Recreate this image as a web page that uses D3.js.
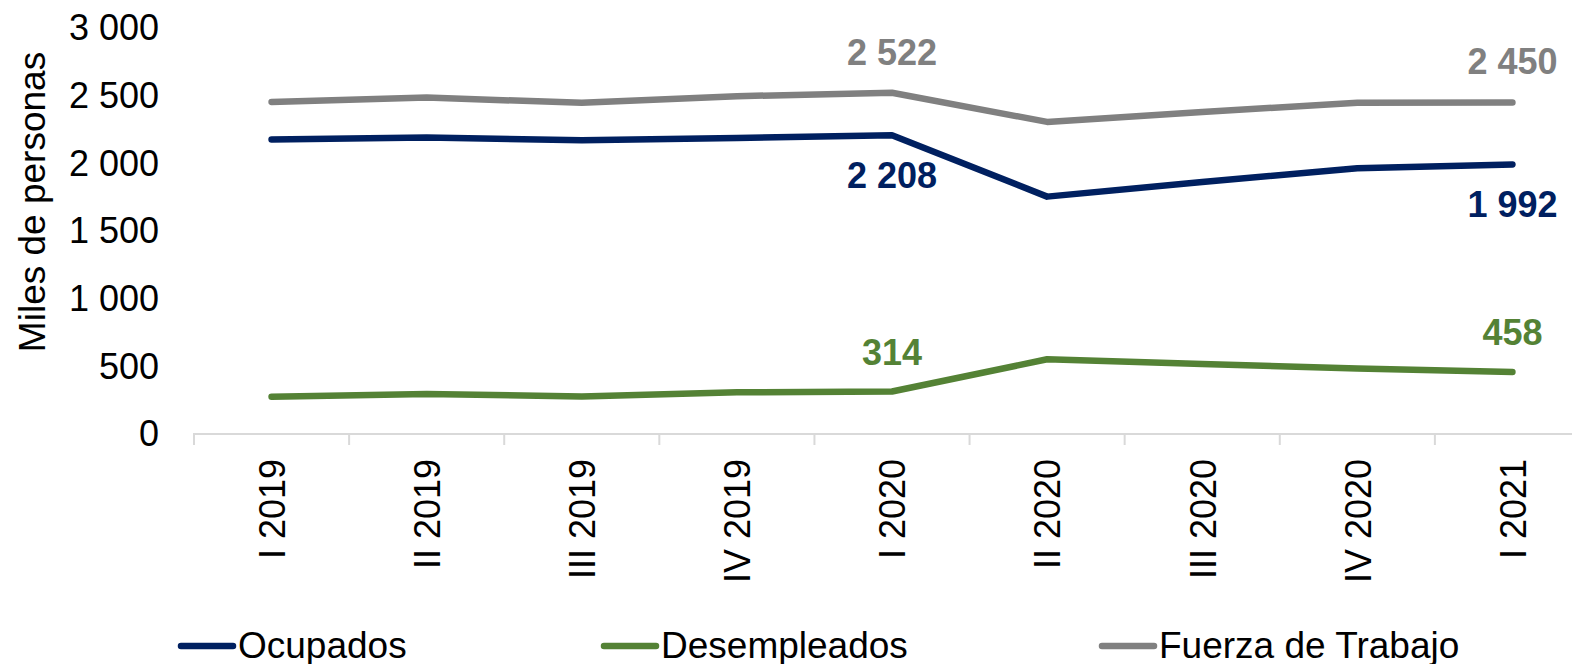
<!DOCTYPE html>
<html>
<head>
<meta charset="utf-8">
<script src="https://cdn.jsdelivr.net/npm/d3@7"></script>
<style>
  body { margin: 0; background: #fff; }
  svg { display: block; font-family: "Liberation Sans", Arial, sans-serif; }
</style>
</head>
<body>
<div id="grafico"></div>
<script>
var trimestres = ["I 2019", "II 2019", "III 2019", "IV 2019", "I 2020", "II 2020", "III 2020", "IV 2020", "I 2021"];
var ocupados = [2177, 2190, 2170, 2188, 2208, 1754, 1862, 1964, 1992];
var desempleados = [276, 296, 277, 308, 314, 552, 517, 484, 458];
var fuerza = [2453, 2486, 2447, 2496, 2522, 2306, 2379, 2448, 2450];
var nombres = ["Ocupados", "Desempleados", "Fuerza de Trabajo"];
var ticks_y = [0, 500, 1000, 1500, 2000, 2500, 3000];
var etiquetados = [4, 8];

var width = 1572, height = 664;
var colores = ["#002060", "#548235", "#808080"];
var series = [ocupados, desempleados, fuerza];
// donde va la etiqueta de cada serie: arriba (-) o abajo (+)
var desplaza = [53, -27, -28];

var formato = function(v){ return d3.format(",")(v).replace(/,/g, " "); };

var svg = d3.select("#grafico")
            .append("svg")
            .attr("width", width)
            .attr("height", height);

var x = d3.scaleBand()
          .domain(trimestres)
          .range([194, 1590]);

var y = d3.scaleLinear()
          .domain([0, 3000])
          .range([434, 28]);

// eje y
var yAxis = d3.axisLeft(y).tickValues(ticks_y).tickSize(0).tickPadding(35).tickFormat(formato);

svg.append("g")
    .attr("transform", "translate(194,0)")
    .call(yAxis)
    .call(function(g){ g.select(".domain").remove(); })
    .selectAll("text")
    .style("font-size", "36px")
    .style("fill", "#000")
    .attr("dy", "0.33em");

svg.append("text")
    .attr("transform", "translate(45,202) rotate(-90)")
    .style("text-anchor", "middle")
    .style("font-size", "37px")
    .text("Miles de personas");

// eje x
svg.append("line")
    .attr("x1", 193).attr("x2", width)
    .attr("y1", 434).attr("y2", 434)
    .style("stroke", "#d9d9d9")
    .style("stroke-width", 2);

svg.append("g")
    .selectAll("line")
    .data(trimestres)
    .enter()
    .append("line")
    .attr("x1", function(d){ return x(d); })
    .attr("x2", function(d){ return x(d); })
    .attr("y1", 434).attr("y2", 445)
    .style("stroke", "#d9d9d9")
    .style("stroke-width", 2);

var xAxis = d3.axisBottom(x).tickSize(0);

svg.append("g")
    .attr("transform", "translate(0,434)")
    .call(xAxis)
    .call(function(g){ g.select(".domain").remove(); })
    .selectAll("text")
    .attr("transform", "rotate(-90)")
    .attr("x", -25)
    .attr("y", 0)
    .attr("dy", "0.37em")
    .style("text-anchor", "end")
    .style("font-size", "36px")
    .style("fill", "#000");

// lineas
var linea = d3.line()
              .x(function(d, i){ return x(trimestres[i]) + x.bandwidth() / 2; })
              .y(function(d){ return y(d); });

series.forEach(function(s, k){
    svg.append("path")
        .datum(s)
        .attr("d", linea)
        .style("fill", "none")
        .style("stroke", colores[k])
        .style("stroke-width", 6.5)
        .style("stroke-linecap", "round")
        .style("stroke-linejoin", "round");

    svg.append("g")
        .selectAll("text")
        .data(etiquetados)
        .enter()
        .append("text")
        .attr("x", function(i){ return x(trimestres[i]) + x.bandwidth() / 2; })
        .attr("y", function(i){ return y(s[i]) + desplaza[k]; })
        .style("text-anchor", "middle")
        .style("font-size", "36px")
        .style("font-weight", "bold")
        .style("fill", colores[k])
        .text(function(i){ return formato(s[i]); });
});

// leyenda
var leyenda_x = [178, 601, 1099];

var leyenda = svg.append("g")
                 .selectAll("g")
                 .data(nombres)
                 .enter()
                 .append("g")
                 .attr("transform", function(d, i){ return "translate(" + leyenda_x[i] + ",646)"; });

leyenda.append("line")
    .attr("x1", 3).attr("x2", 55)
    .attr("y1", 0).attr("y2", 0)
    .style("stroke", function(d, i){ return colores[i]; })
    .style("stroke-width", 6.5)
    .style("stroke-linecap", "round");

leyenda.append("text")
    .attr("x", 60)
    .attr("y", 12)
    .style("font-size", "37px")
    .text(function(d){ return d; });
</script>
</body>
</html>
